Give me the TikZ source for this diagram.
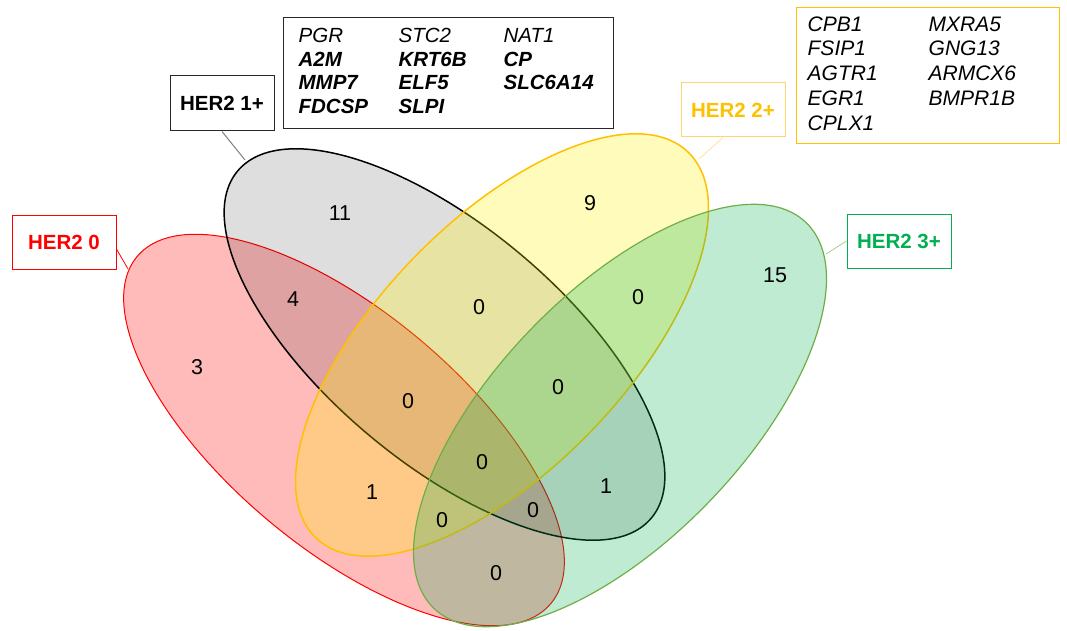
\documentclass[tikz,border=0pt]{standalone}
\usepackage{fontspec}
\setmainfont{Liberation Sans}
\usepackage{xcolor}
\usepackage{array}
\usetikzlibrary{positioning, calc}

\definecolor{herred}{RGB}{255,0,0}
\definecolor{hergrey}{RGB}{40,40,40}
\definecolor{hergold}{RGB}{255,192,0}
\definecolor{hergoldlight}{RGB}{255,214,110}
\definecolor{hergreen}{RGB}{0,176,80}
\definecolor{herolive}{RGB}{112,173,71}

\begin{document}
\begin{tikzpicture}[
    x=1pt, y=-1pt,
    setred/.style={draw=herred, line width=1pt, fill=herred, fill opacity=0.27},
    setblack/.style={draw=black, line width=1.5pt, fill=black, fill opacity=0.13},
    setyellow/.style={draw=hergold, line width=1.5pt, fill=yellow, fill opacity=0.27},
    setgreen/.style={draw=herolive, line width=1.2pt, fill=hergreen, fill opacity=0.25},
    num/.style={font=\fontsize{21.5}{24}\selectfont},
    lab/.style={draw, line width=1pt, minimum width=104pt, minimum height=54pt,
        font=\fontsize{20.5}{24}\selectfont\bfseries},
    genebox/.style={draw, line width=1.3pt, anchor=north west, align=left}
]
\useasboundingbox (0,0) rectangle (1067,631);

\draw[setred, rotate around={-40:(344,430)}] (344,430) ellipse [x radius=270, y radius=118];
\draw[setblack, rotate around={-40:(444.5,344.5)}] (444.5,344.5) ellipse [x radius=270, y radius=118];
\draw[setyellow, rotate around={46:(502,345)}] (502,345) ellipse [x radius=268, y radius=124];
\draw[setgreen, rotate around={46:(620,415.5)}] (620,415.5) ellipse [x radius=268, y radius=124];

\node[num] (n3) at (197,367) {3};
\node[num] (n11) at (340,213) {11};
\node[num] (n9) at (590,203) {9};
\node[num] (n15) at (775,275) {15};
\node[num] (n4) at (293,299) {4};
\node[num] (nby) at (479,307) {0};
\node[num] (nyg) at (638,297) {0};
\node[num] (nrby) at (408,401) {0};
\node[num] (nbyg) at (558,387) {0};
\node[num] (nall) at (482,462) {0};
\node[num] (nry) at (372,492) {1};
\node[num] (nryg) at (442,520) {0};
\node[num] (nrg) at (496,573) {0};
\node[num] (nrbg) at (533,510) {0};
\node[num] (nbg) at (606,486) {1};

\node[lab, draw=herred, text=herred] (her0) at (64,242.5) {HER2 0};
\node[lab, draw=hergrey, text=black, minimum height=55pt] (her1) at (222,103.5) {HER2 1+};
\node[lab, draw=hergoldlight, text=hergold] (her2) at (733,110) {HER2 2+};
\node[lab, draw=hergreen, text=hergreen] (her3) at (899,241) {HER2 3+};

\coordinate (r0) at (128,269);
\coordinate (b1) at (245,160);
\coordinate (y2) at (699,159);
\coordinate (g3) at (826,254);

\draw[herred, line width=0.8pt] ([yshift=-6.5pt]her0.east) -- (r0);
\draw[gray, line width=1pt] (her1.south) -- (b1);
\draw[hergoldlight!70, line width=0.8pt] ([xshift=-10pt]her2.south) -- (y2);
\draw[herolive!60, line width=0.8pt] (her3.west) -- (g3);

\node[genebox, draw=hergrey, minimum width=330pt, minimum height=111pt,
    text width=300pt, inner xsep=15pt, font=\fontsize{20.5}{23.7}\selectfont] (genes1) at (283,17) {%
\begin{tabular}{@{}>{\itshape}p{88pt}>{\itshape}p{93pt}>{\itshape}l@{}}
PGR & STC2 & NAT1\\
\textbf{A2M} & \textbf{KRT6B} & \textbf{CP}\\
\textbf{MMP7} & \textbf{ELF5} & \textbf{SLC6A14}\\
\textbf{FDCSP} & \textbf{SLPI} &
\end{tabular}};

\node[genebox, draw=hergold, minimum width=263pt, minimum height=136pt,
    text width=241pt, inner xsep=11pt, font=\fontsize{21}{24.75}\selectfont] (genes2) at (796,7) {%
\begin{tabular}{@{}>{\itshape}p{109pt}>{\itshape}l@{}}
CPB1 & MXRA5\\
FSIP1 & GNG13\\
AGTR1 & ARMCX6\\
EGR1 & BMPR1B\\
CPLX1 &
\end{tabular}};
\end{tikzpicture}
\end{document}
